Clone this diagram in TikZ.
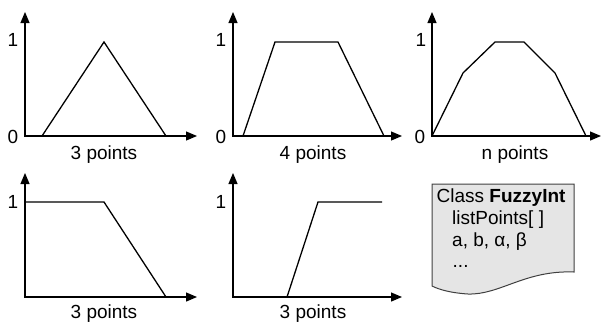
\documentclass[tikz,border=0pt]{standalone}
\usepackage{fontspec}
\setmainfont{Liberation Sans}
\usetikzlibrary{arrows.meta}
\begin{document}
\begin{tikzpicture}[x=1bp,y=-1bp,font=\fontsize{19bp}{22bp}\selectfont,
  axis/.style={{Triangle[length=11bp,width=9bp]}-{Triangle[length=11bp,width=9bp]}, line width=1.2bp},
  curve/.style={line width=1.3bp},
  lbl/.style={inner sep=0pt},
  docbox/.style={fill=black!10, draw=black!75, line width=1bp}]
  \useasboundingbox (0,0) rectangle (602,323);
  % Triangle: 3 points
  \draw[axis] (25,12)--(25,136)--(197,136);
  \draw[curve] (42,136)--(104,42)--(166,136);
  \node[lbl] (one1) at (13,40) {1};
  \node[lbl] (zero1) at (13,137) {0};
  \node[lbl, anchor=base] (cap1) at (104,159) {3 points};
  % Trapezoid: 4 points
  \draw[axis] (233,12)--(233,136)--(402,136);
  \draw[curve] (243,136)--(275,42)--(338,42)--(384,136);
  \node[lbl] (one2) at (221,40) {1};
  \node[lbl] (zero2) at (221,137) {0};
  \node[lbl, anchor=base] (cap2) at (313,159) {4 points};
  % Polygon: n points
  \draw[axis] (432,12)--(432,136)--(601,136);
  \draw[curve] (432,136)--(463,73)--(495,42)--(524,42)--(555,73)--(586,136);
  \node[lbl] (one3) at (421,40) {1};
  \node[lbl] (zero3) at (420,137) {0};
  \node[lbl, anchor=base] (cap3) at (515,159) {n points};
  % Left shoulder: 3 points
  \draw[axis] (25,173)--(25,297)--(197,297);
  \draw[curve] (25,202)--(104,202)--(166,297);
  \node[lbl] (one4) at (13,202) {1};
  \node[lbl, anchor=base] (cap4) at (104,318) {3 points};
  % Right shoulder: 3 points
  \draw[axis] (233,173)--(233,297)--(402,297);
  \draw[curve] (287,297)--(318,202)--(382,202);
  \node[lbl] (one5) at (221,202) {1};
  \node[lbl, anchor=base] (cap5) at (313,318) {3 points};
  % Class note
  \draw[docbox] (432,184)--(574,184)--(574,272)
    .. controls (525,270) and (500,295) .. (468,294)
    .. controls (452,293) and (440,290) .. (432,286)--cycle;
  \node[lbl, anchor=base west] (cls) at (436.5,202) {Class \textbf{FuzzyInt}};
  \node[lbl, anchor=base west] (lst) at (452,224) {listPoints[ ]};
  \node[lbl, anchor=base west] (par) at (452,246) {a, b, α, β};
  \node[lbl, anchor=base west] (dots) at (452.5,267) {...};
\end{tikzpicture}
\end{document}
